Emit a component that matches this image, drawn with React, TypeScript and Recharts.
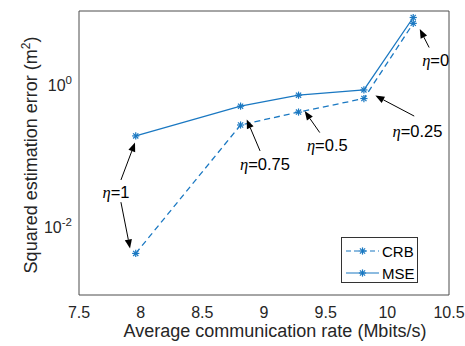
import { ComposedChart, Line, XAxis, YAxis, Legend, ReferenceLine, ReferenceDot } from 'recharts';

const RATE = [7.96, 8.81, 9.28, 9.81, 10.21];
const CRB = [0.00385, 0.248, 0.377, 0.585, 6.7];
const MSE = [0.174, 0.457, 0.652, 0.773, 8.1];

const X_TICKS = [7.5, 8, 8.5, 9, 9.5, 10, 10.5];
const Y_TICKS = [0.01, 1];
const Y_MINOR = [
  0.002, 0.003, 0.004, 0.005, 0.006, 0.007, 0.008, 0.009,
  0.02, 0.03, 0.04, 0.05, 0.06, 0.07, 0.08, 0.09,
  0.2, 0.3, 0.4, 0.5, 0.6, 0.7, 0.8, 0.9,
  2, 3, 4, 5, 6, 7, 8, 9,
];

// eta annotations: label anchor and arrows (tail -> head), in data units
const ETA_TEXT = [
  { eta: '1', x: 7.8, y: 0.028 },
  { eta: '0.75', x: 9.008, y: 0.0697 },
  { eta: '0.5', x: 9.513, y: 0.128 },
  { eta: '0.25', x: 10.244, y: 0.204 },
  { eta: '0', x: 10.392, y: 2.05 },
];
const ETA_ARROWS = [
  { x1: 7.84, y1: 0.0417, x2: 7.954, y2: 0.14 },
  { x1: 7.84, y1: 0.0203, x2: 7.914, y2: 0.00452 },
  { x1: 8.968, y1: 0.107, x2: 8.86, y2: 0.297 },
  { x1: 9.452, y1: 0.194, x2: 9.33, y2: 0.389 },
  { x1: 10.218, y1: 0.331, x2: 9.903, y2: 0.643 },
  { x1: 10.339, y1: 3.06, x2: 10.263, y2: 5.56 },
];

const data = RATE.map((x, i) => ({ x, crb: CRB[i], mse: MSE[i] }));

const BLUE = '#1a78c2';
const AXIS = '#4d4d4d';
const FONT = '"Liberation Sans", Arial, sans-serif';

const Star = (props: any) => {
  const { cx, cy } = props;
  if (cx == null || cy == null) return <g />;
  const r = 3.6;
  const d = r * 0.72;
  return (
    <g stroke={BLUE} strokeWidth={1.2}>
      <line x1={cx - r} y1={cy} x2={cx + r} y2={cy} />
      <line x1={cx} y1={cy - r} x2={cx} y2={cy + r} />
      <line x1={cx - d} y1={cy - d} x2={cx + d} y2={cy + d} />
      <line x1={cx - d} y1={cy + d} x2={cx + d} y2={cy - d} />
    </g>
  );
};

const Arrow = (props: any) => {
  const { x1, y1, x2, y2 } = props;
  const dx = x2 - x1;
  const dy = y2 - y1;
  const len = Math.sqrt(dx * dx + dy * dy) || 1;
  const ux = dx / len;
  const uy = dy / len;
  const hl = 9;
  const hw = 3.6;
  const bx = x2 - ux * hl;
  const by = y2 - uy * hl;
  return (
    <g>
      <line x1={x1} y1={y1} x2={bx} y2={by} stroke="#000" strokeWidth={1} />
      <polygon
        points={`${x2},${y2} ${bx - uy * hw},${by + ux * hw} ${bx + uy * hw},${by - ux * hw}`}
        fill="#000"
      />
    </g>
  );
};

const etaLabel = (eta: string) => (props: any) => (
  <text x={props.cx} y={props.cy} textAnchor="middle" dominantBaseline="central" fontSize={16.5} fill="#000">
    <tspan fontFamily='"Liberation Serif", serif' fontStyle="italic">η</tspan>
    <tspan fontFamily={FONT}>={eta}</tspan>
  </text>
);

const YTick = (props: any) => {
  const { x, y, payload } = props;
  const exp = Math.round(Math.log10(payload.value));
  return (
    <text x={x} y={y + 9} textAnchor="end" fontSize={16} fontFamily={FONT} fill="#262626">
      10<tspan dy={-7} fontSize={11.5}>{exp}</tspan>
    </text>
  );
};

const LegendBox = () => {
  const rows = [
    { name: 'CRB', dash: '5 3' },
    { name: 'MSE', dash: undefined },
  ];
  return (
    <div style={{ width: 77, height: 46, border: '1px solid #333', background: '#fff', boxSizing: 'border-box', position: 'relative' }}>
      {rows.map((r, i) => (
        <div key={r.name} style={{ position: 'absolute', left: 3, top: 2 + i * 22, height: 22, display: 'flex', alignItems: 'center' }}>
          <svg width={35} height={22}>
            <line x1={1} y1={11} x2={34} y2={11} stroke={BLUE} strokeWidth={1.2} strokeDasharray={r.dash} />
            <Star cx={17.5} cy={11} />
          </svg>
          <span style={{ fontFamily: FONT, fontSize: 15, color: '#000', marginLeft: 2 }}>{r.name}</span>
        </div>
      ))}
    </div>
  );
};

export default function App() {
  return (
    <div style={{ position: 'absolute', left: 0, top: 0, width: 465, height: 346, overflow: 'hidden', background: '#fff' }}>
      <div style={{ position: 'absolute', left: 8, top: 8 }}>
        <ComposedChart width={457} height={338} data={data} margin={{ top: 3, right: 16, bottom: 0, left: 0 }}>
          <XAxis
            xAxisId="x"
            dataKey="x"
            type="number"
            domain={[7.5, 10.5]}
            ticks={X_TICKS}
            interval={0}
            height={51}
            axisLine={false}
            tickLine={false}
            tickSize={0}
            tickMargin={12}
            tick={{ fontSize: 16, fontFamily: FONT, fill: '#262626' }}
            label={{
              content: (p: any) => {
                const vb = p.viewBox;
                return (
                  <text x={vb.x + vb.width / 2 + 11} y={vb.y + vb.height - 9} textAnchor="middle" fontSize={18} fontFamily={FONT} fill="#262626">
                    Average communication rate (Mbits/s)
                  </text>
                );
              },
            }}
          />
          <XAxis xAxisId="xb" type="number" domain={[7.5, 10.5]} ticks={X_TICKS} interval={0} orientation="bottom" mirror tick={false} tickSize={5} stroke={AXIS} />
          <XAxis xAxisId="xt" type="number" domain={[7.5, 10.5]} ticks={X_TICKS} interval={0} orientation="top" mirror tick={false} tickSize={5} stroke={AXIS} />
          <YAxis
            yAxisId="y"
            scale="log"
            type="number"
            domain={[0.001, 10]}
            allowDataOverflow
            ticks={Y_TICKS}
            interval={0}
            width={71}
            axisLine={false}
            tickLine={false}
            tickSize={0}
            tickMargin={7}
            tick={<YTick />}
            label={{
              content: () => {
                const cx = 29;
                const cy = 147;
                return (
                  <text x={cx} y={cy} transform={`rotate(-90, ${cx}, ${cy})`} textAnchor="middle" fontSize={18} fontFamily={FONT} fill="#262626">
                    Squared estimation error (m<tspan dy={-7} fontSize={12}>2</tspan><tspan dy={7}>)</tspan>
                  </text>
                );
              },
            }}
          />
          <YAxis yAxisId="yl" scale="log" type="number" domain={[0.001, 10]} allowDataOverflow ticks={Y_TICKS} interval={0} orientation="left" mirror tick={false} tickSize={5} stroke={AXIS} />
          <YAxis yAxisId="ylm" scale="log" type="number" domain={[0.001, 10]} allowDataOverflow ticks={Y_MINOR} interval={0} orientation="left" mirror tick={false} tickSize={3} axisLine={false} stroke={AXIS} />
          <YAxis yAxisId="yr" scale="log" type="number" domain={[0.001, 10]} allowDataOverflow ticks={Y_TICKS} interval={0} orientation="right" mirror tick={false} tickSize={5} stroke={AXIS} />
          <YAxis yAxisId="yrm" scale="log" type="number" domain={[0.001, 10]} allowDataOverflow ticks={Y_MINOR} interval={0} orientation="right" mirror tick={false} tickSize={3} axisLine={false} stroke={AXIS} />

          <Line xAxisId="x" yAxisId="y" dataKey="crb" name="CRB" stroke={BLUE} strokeWidth={1.3} strokeDasharray="6 4" dot={<Star />} isAnimationActive={false} />
          <Line xAxisId="x" yAxisId="y" dataKey="mse" name="MSE" stroke={BLUE} strokeWidth={1.3} dot={<Star />} isAnimationActive={false} />

          {ETA_ARROWS.map((a, i) => (
            <ReferenceLine
              key={'a' + i}
              xAxisId="x"
              yAxisId="y"
              segment={[{ x: a.x1, y: a.y1 }, { x: a.x2, y: a.y2 }]}
              ifOverflow="visible"
              shape={(p: any) => <Arrow {...p} />}
            />
          ))}
          {ETA_TEXT.map((t) => (
            <ReferenceDot key={'t' + t.eta} xAxisId="x" yAxisId="y" x={t.x} y={t.y} r={0} ifOverflow="visible" shape={etaLabel(t.eta)} />
          ))}

          <Legend
            layout="horizontal"
            verticalAlign="middle"
            align="center"
            content={() => <LegendBox />}
            wrapperStyle={{ position: 'absolute', left: 333, top: 229, width: 77, height: 46 }}
          />
        </ComposedChart>
      </div>
    </div>
  );
}
